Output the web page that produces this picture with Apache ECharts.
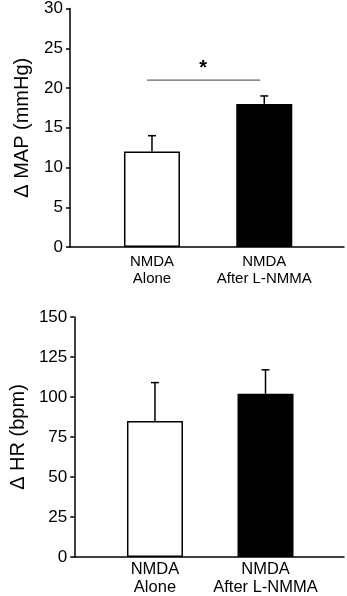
<!DOCTYPE html>
<html>
<head>
<meta charset="utf-8">
<script src="https://cdn.jsdelivr.net/npm/echarts@6/dist/echarts.min.js"></script>
<style>
  html, body { margin: 0; padding: 0; background: #fff; }
  #chart { width: 347px; height: 596px; }
</style>
</head>
<body>
<div id="chart"></div>
<script>
// data
const categories = ['NMDA\nAlone', 'NMDA\nAfter L-NMMA']
const mapMean = [12, 18]
const mapSem = [2, 1]
const hrMean = [85, 102]
const hrSem = [24, 15]
const mapTicks = [0, 5, 10, 15, 20, 25, 30]
const hrTicks = [0, 25, 50, 75, 100, 125, 150]
// significance bracket between the two MAP bars
const mapSigLevel = 21
const mapSigLabel = '*'

const barColors = ['#ffffff', '#000000']
const font = '"Liberation Sans", Arial, Helvetica, sans-serif'

const chart = echarts.init(document.getElementById('chart'))

const barData = (means) => means.map((v, i) => ({
  value: [i, v],
  itemStyle: { color: barColors[i], borderColor: '#000', borderWidth: 1.5 }
}))

const errData = (means, sems) => means.map((v, i) => [i, v, v + sems[i]])

const errorRender = (params, api) => {
  const base = api.coord([api.value(0), api.value(1)])
  const top = api.coord([api.value(0), api.value(2)])
  return {
    type: 'group',
    children: [
      { type: 'line', shape: { x1: base[0], y1: base[1], x2: top[0], y2: top[1] },
        style: { stroke: '#000', lineWidth: 1.5 } },
      { type: 'line', shape: { x1: top[0] - 4, y1: top[1], x2: top[0] + 4, y2: top[1] },
        style: { stroke: '#000', lineWidth: 1.5 } }
    ]
  }
}

const sigRender = (params, api) => {
  const a = api.coord([0, api.value(0)])
  const b = api.coord([1, api.value(0)])
  return {
    type: 'group',
    children: [
      { type: 'line', shape: { x1: a[0] - 5, y1: a[1], x2: b[0] - 4, y2: b[1] },
        style: { stroke: '#666', lineWidth: 1.3 } },
      { type: 'text', x: (a[0] + b[0]) / 2 - 5, y: a[1] - 2,
        style: { text: mapSigLabel, fill: '#000', font: 'bold 20px ' + font,
          align: 'center', verticalAlign: 'bottom' } }
    ]
  }
}

const xAxisOf = (gridIndex, fontSize, lineHeight, margin) => ({
  type: 'value',
  gridIndex,
  min: -0.73,
  max: 1.71,
  splitLine: { show: false },
  axisTick: { show: false },
  axisLine: { show: true, onZero: false, lineStyle: { color: '#000', width: 1.5 } },
  axisLabel: {
    customValues: [0, 1],
    formatter: (v) => categories[Math.round(v)] || '',
    color: '#000',
    fontFamily: font,
    fontSize,
    lineHeight,
    margin
  }
})

const yAxisOf = (gridIndex, ticks, name) => ({
  type: 'value',
  gridIndex,
  min: ticks[0],
  max: ticks[ticks.length - 1],
  interval: ticks[1] - ticks[0],
  name,
  nameLocation: 'middle',
  nameGap: 38,
  nameTextStyle: { color: '#000', fontFamily: font, fontSize: 20 },
  splitLine: { show: false },
  axisLine: { show: true, onZero: false, lineStyle: { color: '#000', width: 1.5 } },
  axisTick: { show: true, inside: false, length: 4, lineStyle: { color: '#000', width: 1.5 } },
  axisLabel: { color: '#000', fontFamily: font, fontSize: 17, margin: 7 }
})

const option = {
  animation: false,
  backgroundColor: '#fff',
  grid: [
    { left: 70, top: 8, width: 274, height: 239 },
    { left: 70, top: 317, width: 274, height: 240 }
  ],
  xAxis: [xAxisOf(0, 15, 17, 6), xAxisOf(1, 16.5, 17.5, 4)],
  yAxis: [
    yAxisOf(0, mapTicks, '\u0394 MAP (mmHg)'),
    yAxisOf(1, hrTicks, '\u0394 HR (bpm)')
  ],
  series: [
    { type: 'bar', xAxisIndex: 0, yAxisIndex: 0, barWidth: 56, data: barData(mapMean), z: 2 },
    { type: 'custom', xAxisIndex: 0, yAxisIndex: 0, renderItem: errorRender,
      data: errData(mapMean, mapSem), z: 1 },
    { type: 'custom', xAxisIndex: 0, yAxisIndex: 0, renderItem: sigRender,
      data: [[mapSigLevel]], z: 3 },
    { type: 'bar', xAxisIndex: 1, yAxisIndex: 1, barWidth: 56, data: barData(hrMean), z: 2 },
    { type: 'custom', xAxisIndex: 1, yAxisIndex: 1, renderItem: errorRender,
      data: errData(hrMean, hrSem), z: 1 }
  ]
}

chart.setOption(option)
</script>
</body>
</html>
